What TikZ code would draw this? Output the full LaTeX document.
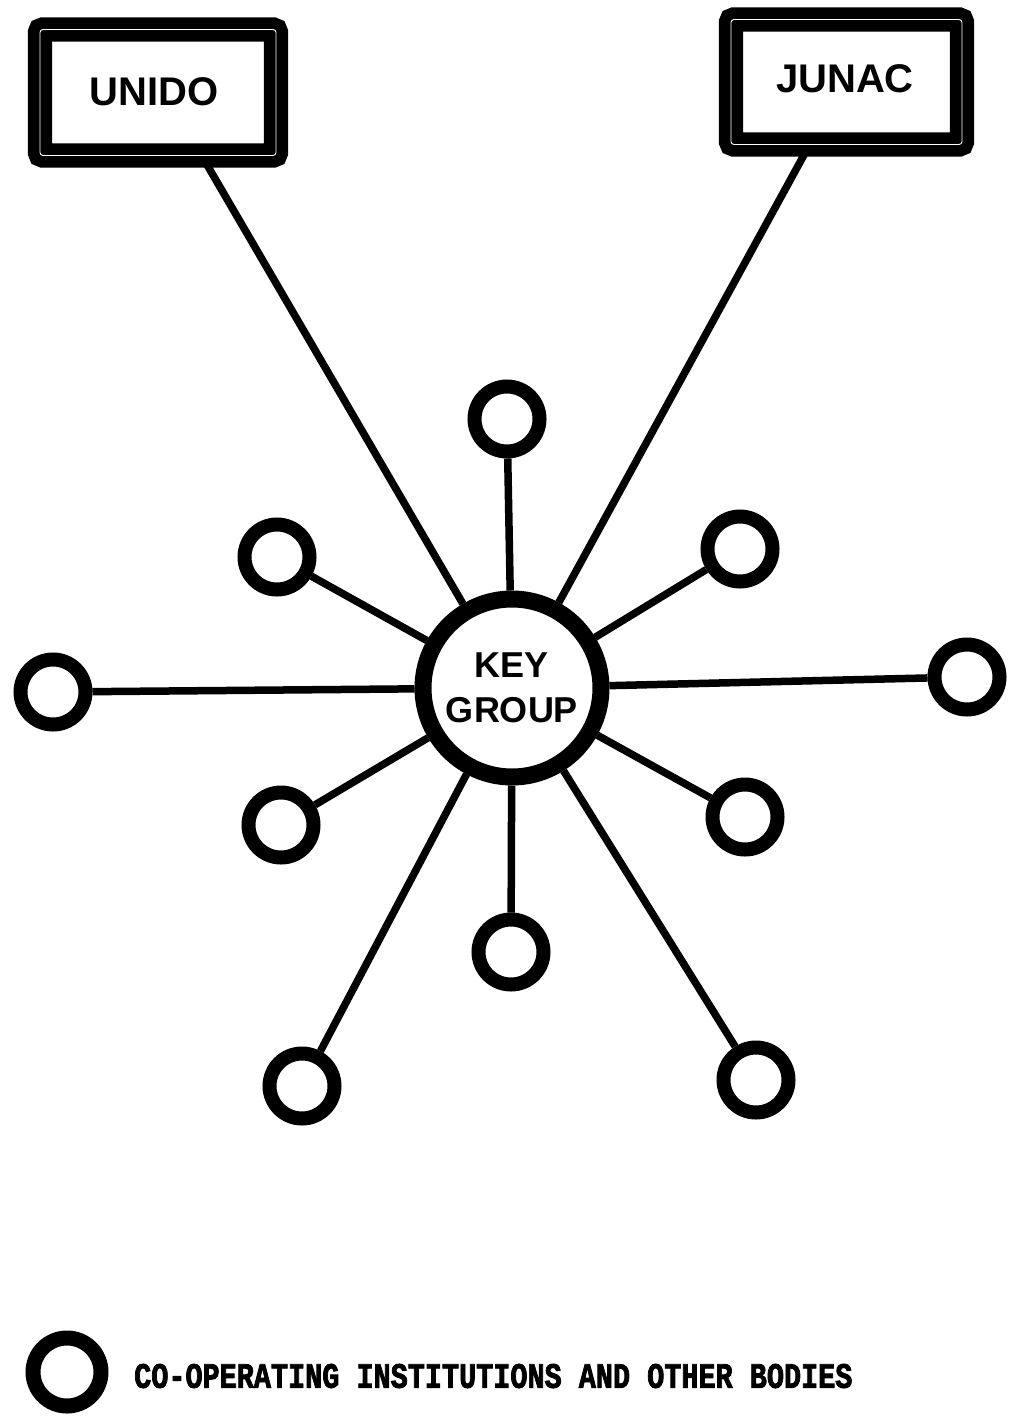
\documentclass[tikz,border=0pt]{standalone}
\usepackage{fontspec}
\usepackage{graphicx}
\newfontfamily\labfont{Liberation Sans}
\newfontfamily\legfont{Liberation Mono}[BoldFeatures={FakeBold=2.5}]
\begin{document}
\begin{tikzpicture}[x=1pt,y=-1pt,
  inst/.style={circle,draw,line width=14pt,minimum size=65pt,inner sep=0pt},
  keyg/.style={circle,draw,line width=17pt,minimum size=178pt,inner sep=0pt,align=center,
    font=\labfont\bfseries\fontsize{36}{45}\selectfont},
  orgbox/.style={rectangle,draw,line width=11.7pt,double=white,double distance=0.9pt,
    rounded corners=3pt,inner sep=0pt},
  orgtext/.style={font=\labfont\bfseries\fontsize{40}{40}\selectfont},
  spoke/.style={line width=7.5pt},
]
\useasboundingbox (0,0) rectangle (1009,1427);

% organisation boxes
\node[orgbox,minimum width=236pt,minimum height=126pt] (unido) at (158,92.5) {};
\node[orgtext] (unidot) at (154,92) {UNIDO};
\node[orgbox,minimum width=231pt,minimum height=125pt] (junac) at (846.5,82) {};
\node[orgtext] (junact) at (845,79) {JUNAC};

% key group
\node[keyg] (key) at (512,688) {KEY\\GROUP};

% co-operating institutions
\node[inst] (ct)  at (507,419)  {};
\node[inst] (cul) at (277,557)  {};
\node[inst] (cur) at (740,549)  {};
\node[inst] (cl)  at (53,692)   {};
\node[inst] (cr)  at (967,677)  {};
\node[inst] (cll) at (281,825)  {};
\node[inst] (clr) at (745,817)  {};
\node[inst] (cb)  at (511,952)  {};
\node[inst] (cfl) at (302,1086) {};
\node[inst] (cfr) at (756,1080) {};

% spokes
\foreach \c in {ct,cul,cur,cl,cr,cll,clr,cb,cfl,cfr}
  \draw[spoke] (key) -- (\c);

% links to organisations
\draw[spoke] ([xshift=47pt]unido.south) -- (key);
\draw[spoke] ([xshift=-40pt]junac.south) -- (key);

% legend
\node[inst,minimum size=68pt,line width=15pt] (legc) at (67,1372) {};
\node[anchor=west,inner sep=0pt] (legt) at (134,1376)
  {\scalebox{1}[1.25]{\legfont\bfseries\fontsize{28.5}{30}\selectfont CO-OPERATING INSTITUTIONS AND OTHER BODIES}};
\end{tikzpicture}
\end{document}
